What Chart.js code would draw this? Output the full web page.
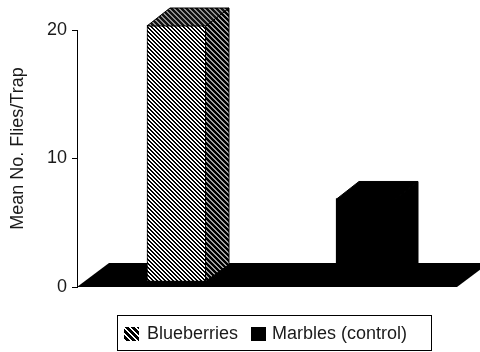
<!DOCTYPE html>
<html><head><meta charset="utf-8">
<script src="https://cdn.jsdelivr.net/npm/chart.js@4/dist/chart.umd.min.js"></script>
<style>html,body{margin:0;padding:0;background:#fff}canvas{display:block}</style>
</head><body>
<canvas id="c" width="480" height="352"></canvas>
<script>
const categories = ['Blueberries', 'Marbles (control)'];
const meanFlies = [20.0, 6.5];
const yTicks = [0, 10, 20];
const yTitle = 'Mean No. Flies/Trap';

const FONT = "'Liberation Sans', Arial, Helvetica, sans-serif";
const TXT = '#1a1a1a';
const canvas = document.getElementById('c');
const ctx0 = canvas.getContext('2d');

function stripePattern(fg, bg, period, fgw) {
  const c = document.createElement('canvas');
  c.width = c.height = period;
  const x = c.getContext('2d');
  x.fillStyle = bg; x.fillRect(0, 0, period, period);
  x.fillStyle = fg;
  for (let i = 0; i < period; i++) for (let j = 0; j < period; j++)
    if ((((i - j) % period) + period) % period < fgw) x.fillRect(i, j, 1, 1);
  return ctx0.createPattern(c, 'repeat');
}
const frontHatch = stripePattern('#ffffff', '#000000', 4, 2);
const sideHatch = stripePattern('#a0a0a0', '#000000', 5, 2);
const topHatch = stripePattern('#909090', '#111111', 5, 2);
const legendHatch = stripePattern('#ffffff', '#000000', 6, 2);

const frontFills = [frontHatch, '#000000'];
const sideFills = [sideHatch, '#000000'];
const topFills = [topHatch, '#000000'];

// 3D geometry (pixels)
const FLOOR_DX = 32, FLOOR_DY = 24;
const SHIFT_X = 5, SHIFT_Y = 5;
const BAR_DX = 23, BAR_DY = 17;

const depthPlugin = {
  id: 'depth3d',
  beforeDatasetsDraw(chart) {
    const {ctx, chartArea: a, scales: {y}} = chart;
    const y0 = y.getPixelForValue(0);
    ctx.save();
    ctx.fillStyle = '#000';
    ctx.beginPath();
    ctx.moveTo(a.left, y0);
    ctx.lineTo(a.right + 2, y0);
    ctx.lineTo(a.right + 2 + FLOOR_DX, y0 - FLOOR_DY);
    ctx.lineTo(a.left + FLOOR_DX, y0 - FLOOR_DY);
    ctx.closePath();
    ctx.fill();
    ctx.restore();
    ctx.save();
    ctx.translate(SHIFT_X, -SHIFT_Y);
  },
  afterDatasetsDraw(chart) {
    const {ctx} = chart;
    ctx.restore();
    const meta = chart.getDatasetMeta(0);
    meta.data.forEach((bar, i) => {
      const p = bar.getProps(['x', 'y', 'base', 'width'], true);
      const l = p.x - p.width / 2 + SHIFT_X, r = p.x + p.width / 2 + SHIFT_X;
      const t = p.y - SHIFT_Y, b = p.base - SHIFT_Y;
      ctx.save();
      ctx.lineWidth = 1;
      ctx.strokeStyle = '#000';
      // side face
      ctx.beginPath();
      ctx.moveTo(r - 0.5, t + 1); ctx.lineTo(r + BAR_DX, t - BAR_DY);
      ctx.lineTo(r + BAR_DX, b - BAR_DY); ctx.lineTo(r - 0.5, b); ctx.closePath();
      ctx.fillStyle = sideFills[i]; ctx.fill(); ctx.stroke();
      // top face
      ctx.beginPath();
      ctx.moveTo(l, t + 1); ctx.lineTo(l + BAR_DX, t - BAR_DY);
      ctx.lineTo(r + BAR_DX, t - BAR_DY); ctx.lineTo(r, t + 1); ctx.closePath();
      ctx.fillStyle = topFills[i]; ctx.fill(); ctx.stroke();
      ctx.restore();
    });
  },
  afterDraw(chart) {
    const {ctx} = chart;
    ctx.save();
    // y-axis title
    ctx.fillStyle = TXT;
    ctx.font = '18px ' + FONT;
    ctx.textAlign = 'center';
    ctx.textBaseline = 'alphabetic';
    ctx.translate(23, 148.5);
    ctx.rotate(-Math.PI / 2);
    ctx.fillText(yTitle, 0, 0);
    ctx.restore();
    // legend
    ctx.save();
    ctx.strokeStyle = '#000';
    ctx.lineWidth = 1;
    ctx.strokeRect(117.5, 315.5, 314, 35);
    const sw = [[124, 327, legendHatch], [251, 327, '#000']];
    const tx = [147, 272];
    ctx.font = '18px ' + FONT;
    ctx.textAlign = 'left';
    ctx.textBaseline = 'alphabetic';
    categories.forEach((c, i) => {
      ctx.fillStyle = sw[i][2];
      ctx.fillRect(sw[i][0], sw[i][1], 15, 14);
      ctx.fillStyle = TXT;
      ctx.fillText(c, tx[i], 339);
    });
    ctx.restore();
  }
};

new Chart(canvas, {
  type: 'bar',
  data: {
    labels: categories,
    datasets: [{
      label: 'Mean No. Flies/Trap',
      data: meanFlies,
      backgroundColor: frontFills,
      borderColor: '#000',
      borderWidth: 1,
      borderSkipped: false,
      barThickness: 59,
      clip: false
    }]
  },
  options: {
    responsive: false,
    animation: false,
    devicePixelRatio: 1,
    layout: {padding: {left: 0, right: 25, top: 30, bottom: 65}},
    plugins: {legend: {display: false}, tooltip: {enabled: false}},
    scales: {
      x: {display: false},
      y: {
        min: 0, max: 20,
        afterFit(s) { s.width = 77; },
        afterBuildTicks(s) { s.ticks = yTicks.map(v => ({value: v})); },
        ticks: {color: TXT, font: {family: FONT, size: 18}, padding: 5},
        grid: {drawOnChartArea: false, drawTicks: true, tickLength: 5, color: '#000'},
        border: {display: true, color: '#000', width: 1}
      }
    }
  },
  plugins: [depthPlugin]
});
</script>
</body></html>
